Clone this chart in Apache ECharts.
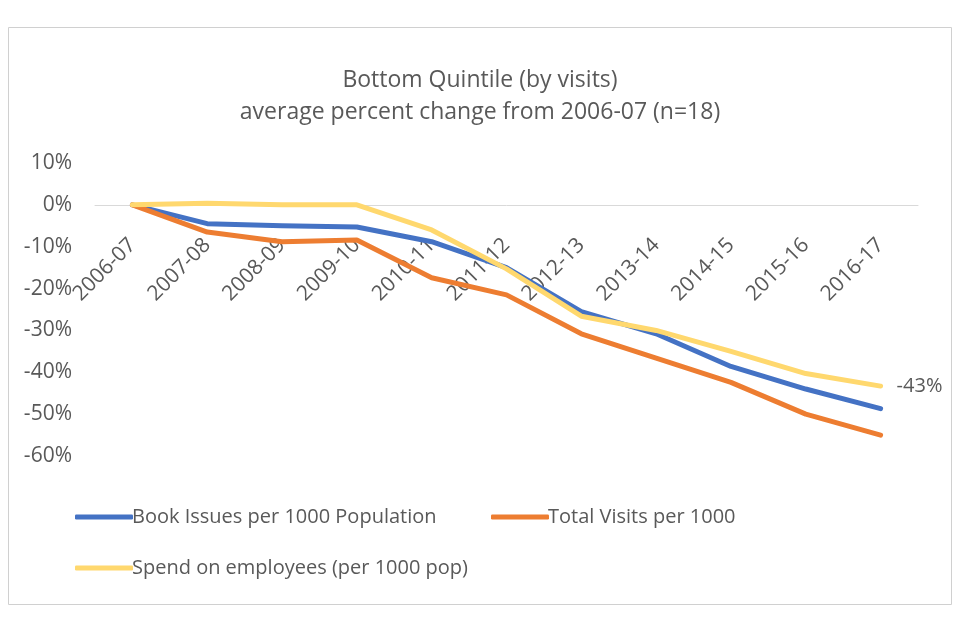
<!DOCTYPE html>
<html>
<head>
<meta charset="utf-8">
<script src="https://cdn.jsdelivr.net/npm/echarts@6/dist/echarts.min.js"></script>
<style>html,body{margin:0;padding:0;background:#fff;}#c{width:960px;height:640px;}</style>
</head>
<body>
<div id="c"></div>
<script>
const categories = ['2006-07','2007-08','2008-09','2009-10','2010-11','2011-12','2012-13','2013-14','2014-15','2015-16','2016-17'];
const bookIssues = [0, -4.5, -5.0, -5.3, -8.8, -15.0, -25.5, -30.8, -38.6, -44.0, -48.7];
const totalVisits = [0, -6.5, -8.8, -8.4, -17.4, -21.5, -30.8, -36.6, -42.4, -50.0, -55.0];
const spendEmployees = [0, 0.4, 0.0, 0.0, -6.0, -15.3, -26.6, -30.0, -35.0, -40.3, -43.3];
const endLabel = '-43%';
const yTicks = { min: -60, max: 10, interval: 10 };
const title1 = 'Bottom Quintile (by visits)';
const title2 = 'average percent change from 2006-07 (n=18)';
const names = ['Book Issues per 1000 Population', 'Total Visits per 1000', 'Spend on employees (per 1000 pop)'];
const colors = ['#4472C4', '#ED7D31', '#FFD86E'];

const font = '"Open Sans", sans-serif';
const gray = '#595959';
const chart = echarts.init(document.getElementById('c'));
const gridTop = 163, gridHeight = 293;
const zeroOffset = -gridHeight * (0 - yTicks.min) / (yTicks.max - yTicks.min);

function mk(name, data, color, withLabel) {
  const s = {
    name, type: 'line', data,
    showSymbol: false, symbol: 'none',
    lineStyle: { width: 5, color, cap: 'round', join: 'round' },
    itemStyle: { color },
    z: withLabel ? 3 : 2
  };
  if (withLabel) {
    s.endLabel = { show: true, formatter: endLabel, color: gray, fontSize: 20, fontFamily: font, distance: 16 };
  }
  return s;
}

const legendText = { color: gray, fontSize: 20, fontFamily: font, padding: [0, 0, 0, -6] };
chart.setOption({
  animation: false,
  backgroundColor: '#fff',
  title: [
    { text: title1, left: 'center', top: 64, textStyle: { color: gray, fontSize: 23, fontWeight: 'normal', fontFamily: font } },
    { text: title2, left: 'center', top: 96, textStyle: { color: gray, fontSize: 23, fontWeight: 'normal', fontFamily: font } }
  ],
  graphic: [{ type: 'rect', shape: { x: 8.5, y: 27.5, width: 943, height: 577 }, style: { fill: 'none', stroke: '#d0d0d0', lineWidth: 1 }, z: -1 }],
  legend: [
    { data: [names[0]], left: 70, top: 502, itemWidth: 58, itemHeight: 5, icon: 'roundRect', itemGap: 0, textStyle: legendText },
    { data: [names[1]], left: 486, top: 502, itemWidth: 58, itemHeight: 5, icon: 'roundRect', itemGap: 0, textStyle: legendText },
    { data: [names[2]], left: 70, top: 553, itemWidth: 58, itemHeight: 5, icon: 'roundRect', itemGap: 0, textStyle: legendText }
  ],
  grid: { left: 95, right: 42, top: gridTop, height: gridHeight, containLabel: false },
  xAxis: {
    type: 'category', data: categories, boundaryGap: true,
    offset: zeroOffset,
    axisLine: { onZero: false, lineStyle: { color: '#d9d9d9', width: 1 } },
    axisTick: { show: false },
    axisLabel: { rotate: 45, margin: 37, color: gray, fontSize: 21, fontFamily: font, interval: 0 }
  },
  yAxis: {
    type: 'value', min: yTicks.min, max: yTicks.max, interval: yTicks.interval,
    axisLine: { show: false }, axisTick: { show: false },
    splitLine: { show: false },
    axisLabel: { formatter: v => v + '%', color: gray, fontSize: 21, fontFamily: font, margin: 23 }
  },
  series: [
    mk(names[0], bookIssues, colors[0], false),
    mk(names[1], totalVisits, colors[1], false),
    mk(names[2], spendEmployees, colors[2], true)
  ]
});
</script>
</body>
</html>
